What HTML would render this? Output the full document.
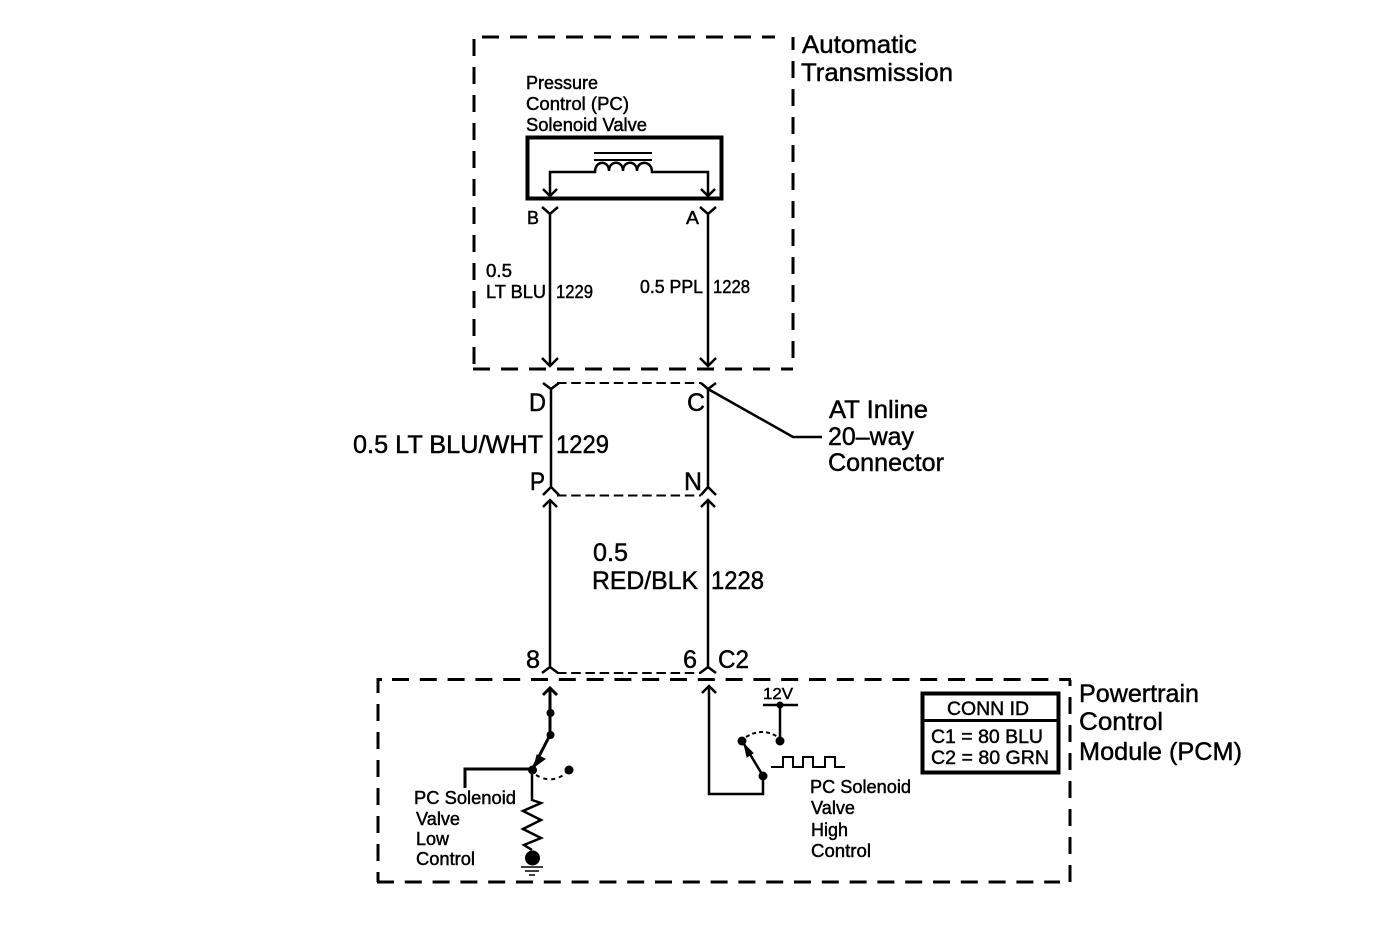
<!DOCTYPE html>
<html><head><meta charset="utf-8">
<style>
html,body{margin:0;padding:0;background:#fff;width:1400px;height:928px;overflow:hidden}
svg{display:block}
text{font-family:"Liberation Sans",sans-serif;fill:#000;stroke:#000;stroke-width:.45}
.l{font-size:25px}.m{font-size:19px}.s{font-size:18px}
path,line,rect{fill:none;stroke:#000}
circle{fill:#000;stroke:none}
.d{stroke-width:3;stroke-dasharray:17 11}
.t{stroke-width:2;stroke-dasharray:9.5 4.7}
.w{stroke-width:2.5}
</style></head><body>
<svg width="1400" height="928" viewBox="0 0 1400 928" xmlns="http://www.w3.org/2000/svg">
<!-- dashed boxes -->
<path class="d" d="M482 37H775"/>
<path class="d" d="M474 39V369"/>
<path class="d" d="M473 369H793"/>
<path class="d" d="M793 37V369" stroke-dashoffset="4"/>
<path class="d" style="stroke-dasharray:17 10.8" d="M392 679.500H1071"/>
<path d="M378 681V679.500H382" stroke-width="3"/>
<path class="d" d="M378 680V882" stroke-dashoffset="4"/>
<path class="d" style="stroke-dasharray:17 10.8" d="M377 882H1060"/>
<path class="d" d="M1070 680V882" stroke-dashoffset="11"/>
<!-- solenoid -->
<rect x="527.500" y="137.500" width="194" height="61" stroke-width="4"/>
<path d="M594 153H652M594 160H652" stroke-width="2"/>
<path class="w" d="M550 196V172H595C595 160 609 160 609 171C609 160 623 160 623 171C623 160 637 160 637 171C637 160 652 160 652 172H708V196"/>
<path class="w" d="M543 189L550 196L557 189M701 189L708 196L715 189"/>
<!-- upper Y connectors & wires -->
<path class="w" d="M542 207L550 214L558 207M550 214V366M542 358L550 366L558 358"/>
<path class="w" d="M700 207L708 214L716 207M708 214V366M700 358L708 366L716 358"/>
<!-- inline connector -->
<path class="w" d="M543 383L551 389L559 383M551 389V487M543 495L551 487L559 495"/>
<path class="w" d="M701 383L708 389L716 383M708 389V487M701 495L708 487L716 495"/>
<path class="t" d="M557 383H701M557 495.500H701"/>
<path class="w" d="M708 389L793 437H822"/>
<!-- lower wires -->
<path class="w" d="M543 507L550 500L557 507M550 500V667M542 673L550 667L558 673"/>
<path class="w" d="M701 507L708 500L715 507M708 500V667M700 673L708 667L716 673"/>
<path class="t" d="M557 673H701"/>
<!-- PCM left -->
<path d="M543 695L550 688L557 695M550 688V735" stroke-width="3"/>
<circle cx="550.500" cy="713" r="4"/><circle cx="550.500" cy="735" r="4"/>
<path d="M550 735L533 768" stroke-width="3"/>
<path d="M534 767L537 755L545 759Z" style="fill:#000"/>
<circle cx="532.500" cy="770" r="4.500"/><circle cx="569" cy="770" r="4.500"/>
<path d="M536 775Q553 785 567 772" stroke-width="2" stroke-dasharray="4 4"/>
<path d="M532 769H465V788" stroke-width="3"/>
<path class="w" d="M532 770V800L541 803L523 811L541 820L523 829L541 838L524 845L532 850"/>
<circle cx="532.500" cy="858" r="7.500"/>
<path d="M521 867H543M525 871H539M529 875H535" stroke-width="1.500"/>
<!-- PCM right -->
<path class="w" d="M702 693L709 686L716 693M709 686V794H763V776"/>
<circle cx="763" cy="776" r="4.500"/><circle cx="742" cy="741" r="4.500"/>
<path d="M763 776L744 744" stroke-width="2.500"/>
<path d="M744 744L753 753L747 757Z" style="fill:#000"/>
<path d="M746 737Q762 727 778 737" stroke-width="2" stroke-dasharray="4 3"/>
<path class="w" d="M763 705H798M780 705V741"/>
<circle cx="780" cy="705" r="3.500"/><circle cx="780" cy="741" r="4.500"/>
<path d="M771 767H783V757H793V767H803V757H813V767H825V757H835V767H845" stroke-width="2"/>
<!-- conn id -->
<rect x="922.500" y="693.500" width="136" height="79" stroke-width="4"/>
<line x1="922" y1="720.500" x2="1059" y2="720.500" stroke-width="3"/>
<!-- text -->
<text class="l" lengthAdjust="spacingAndGlyphs" x="802" y="53" textLength="115">Automatic</text>
<text class="l" lengthAdjust="spacingAndGlyphs" x="801" y="81" textLength="152">Transmission</text>
<text class="s" lengthAdjust="spacingAndGlyphs" x="526" y="89" textLength="72">Pressure</text>
<text class="s" lengthAdjust="spacingAndGlyphs" x="526" y="110" textLength="103">Control (PC)</text>
<text class="s" lengthAdjust="spacingAndGlyphs" x="526" y="131" textLength="121">Solenoid Valve</text>
<text class="s" lengthAdjust="spacingAndGlyphs" x="527" y="224" textLength="12">B</text>
<text class="s" lengthAdjust="spacingAndGlyphs" x="686" y="224" textLength="13">A</text>
<text class="s" lengthAdjust="spacingAndGlyphs" x="486" y="277" textLength="26">0.5</text>
<text class="s" lengthAdjust="spacingAndGlyphs" x="486" y="298" textLength="60">LT BLU</text>
<text class="s" lengthAdjust="spacingAndGlyphs" x="556" y="298" textLength="37">1229</text>
<text class="s" lengthAdjust="spacingAndGlyphs" x="640" y="293" textLength="63">0.5 PPL</text>
<text class="s" lengthAdjust="spacingAndGlyphs" x="713" y="293" textLength="37">1228</text>
<text class="l" lengthAdjust="spacingAndGlyphs" x="529" y="411" textLength="17">D</text>
<text class="l" lengthAdjust="spacingAndGlyphs" x="687" y="411" textLength="18">C</text>
<text class="l" lengthAdjust="spacingAndGlyphs" x="829" y="418" textLength="99">AT Inline</text>
<text class="l" lengthAdjust="spacingAndGlyphs" x="828" y="445" textLength="86">20–way</text>
<text class="l" lengthAdjust="spacingAndGlyphs" x="828" y="471" textLength="116">Connector</text>
<text class="l" lengthAdjust="spacingAndGlyphs" x="353" y="453" textLength="190">0.5 LT BLU/WHT</text>
<text class="l" lengthAdjust="spacingAndGlyphs" x="556" y="453" textLength="53">1229</text>
<text class="l" lengthAdjust="spacingAndGlyphs" x="530" y="490" textLength="15">P</text>
<text class="l" lengthAdjust="spacingAndGlyphs" x="684" y="490" textLength="18">N</text>
<text class="l" lengthAdjust="spacingAndGlyphs" x="593" y="561" textLength="35">0.5</text>
<text class="l" lengthAdjust="spacingAndGlyphs" x="592" y="589" textLength="106">RED/BLK</text>
<text class="l" lengthAdjust="spacingAndGlyphs" x="711" y="589" textLength="53">1228</text>
<text class="l" lengthAdjust="spacingAndGlyphs" x="526" y="668" textLength="14">8</text>
<text class="l" lengthAdjust="spacingAndGlyphs" x="683" y="668" textLength="14">6</text>
<text class="l" lengthAdjust="spacingAndGlyphs" x="718" y="668" textLength="31">C2</text>
<text lengthAdjust="spacingAndGlyphs" style="font-size:16px" x="763" y="699" textLength="30">12V</text>
<text class="l" lengthAdjust="spacingAndGlyphs" x="1079" y="702" textLength="120">Powertrain</text>
<text class="l" lengthAdjust="spacingAndGlyphs" x="1079" y="730" textLength="84">Control</text>
<text class="l" lengthAdjust="spacingAndGlyphs" x="1079" y="760" textLength="163">Module (PCM)</text>
<text class="m" lengthAdjust="spacingAndGlyphs" x="947" y="715" textLength="82">CONN ID</text>
<text class="m" lengthAdjust="spacingAndGlyphs" x="931" y="743" textLength="112">C1 = 80 BLU</text>
<text class="m" lengthAdjust="spacingAndGlyphs" x="931" y="764" textLength="118">C2 = 80 GRN</text>
<text class="s" lengthAdjust="spacingAndGlyphs" x="414" y="804" textLength="102">PC Solenoid</text>
<text class="s" lengthAdjust="spacingAndGlyphs" x="416" y="825" textLength="44">Valve</text>
<text class="s" lengthAdjust="spacingAndGlyphs" x="416" y="845" textLength="33">Low</text>
<text class="s" lengthAdjust="spacingAndGlyphs" x="416" y="865" textLength="59">Control</text>
<text class="s" lengthAdjust="spacingAndGlyphs" x="810" y="793" textLength="101">PC Solenoid</text>
<text class="s" lengthAdjust="spacingAndGlyphs" x="811" y="814" textLength="44">Valve</text>
<text class="s" lengthAdjust="spacingAndGlyphs" x="811" y="836" textLength="37">High</text>
<text class="s" lengthAdjust="spacingAndGlyphs" x="811" y="857" textLength="60">Control</text>
</svg>
</body></html>
